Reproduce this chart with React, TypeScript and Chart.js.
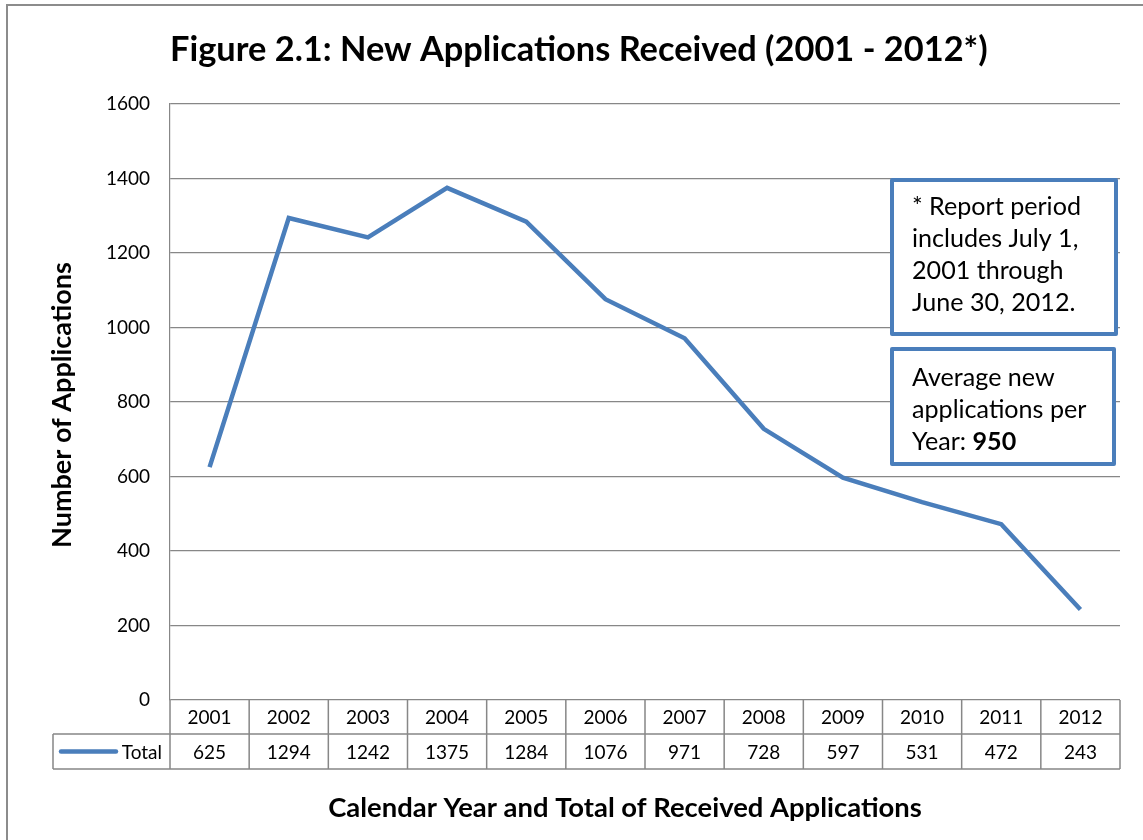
import React, { useEffect, useRef } from "react";
import { Chart, registerables } from "chart.js";

Chart.register(...registerables);

const years = ["2001", "2002", "2003", "2004", "2005", "2006", "2007", "2008", "2009", "2010", "2011", "2012"];
const totals = [625, 1294, 1242, 1375, 1284, 1076, 971, 728, 597, 531, 472, 243];
const yTickValues = [0, 200, 400, 600, 800, 1000, 1200, 1400, 1600];
const seriesLabel = "Total";
const chartTitle = "Figure 2.1: New Applications Received (2001 - 2012*)";
const yTitle = "Number of Applications";
const xTitle = "Calendar Year and Total of Received Applications";
const noteLines = ["* Report period", "includes July 1,", "2001 through", "June 30, 2012."];
const avgPrefix = ["Average new", "applications per", "Year: "];
const avgValue = "950";

const FONT = "Lato, 'Open Sans', sans-serif";
const BLUE = "#4A7EBB";
const GRID = "#878787";

function fitFont(ctx: CanvasRenderingContext2D, text: string, weight: string, target: number) {
  ctx.font = `${weight} 100px ${FONT}`;
  const w = ctx.measureText(text).width;
  return (100 * target) / w;
}

const overlayPlugin = {
  id: "overlay",
  afterDraw(chart: any) {
    const ctx: CanvasRenderingContext2D = chart.ctx;
    const area = chart.chartArea;
    const xs = chart.scales.x;
    ctx.save();

    // outer border
    ctx.strokeStyle = "#8c8c8c";
    ctx.lineWidth = 2;
    ctx.strokeRect(7, 5, 1200, 900);

    // title
    const ts = fitFont(ctx, chartTitle, "bold", 818);
    ctx.font = `bold ${ts}px ${FONT}`;
    ctx.fillStyle = "#000";
    ctx.textAlign = "left";
    ctx.textBaseline = "middle";
    ctx.fillText(chartTitle, 170, 50);

    // y title
    const ys = fitFont(ctx, yTitle, "bold", 286);
    ctx.save();
    ctx.translate(62, 405);
    ctx.rotate(-Math.PI / 2);
    ctx.font = `bold ${ys}px ${FONT}`;
    ctx.textAlign = "center";
    ctx.fillText(yTitle, 0, 0);
    ctx.restore();

    // data table
    const n = years.length;
    const left = area.left;
    const right = area.right;
    const w = (right - left) / n;
    const r0 = area.bottom;
    const r1 = r0 + 34;
    const r2 = r1 + 35;
    const legL = 53;
    ctx.strokeStyle = GRID;
    ctx.lineWidth = 1.5;
    ctx.beginPath();
    ctx.moveTo(legL, r1); ctx.lineTo(right, r1);
    ctx.moveTo(legL, r2); ctx.lineTo(right, r2);
    ctx.moveTo(legL, r1); ctx.lineTo(legL, r2);
    for (let i = 0; i <= n; i++) {
      const x = left + i * w;
      ctx.moveTo(x, r0); ctx.lineTo(x, r2);
    }
    ctx.stroke();

    ctx.font = `19px ${FONT}`;
    ctx.fillStyle = "#000";
    ctx.textAlign = "center";
    ctx.textBaseline = "middle";
    for (let i = 0; i < n; i++) {
      const cx = xs.getPixelForValue(i);
      ctx.fillText(years[i], cx, (r0 + r1) / 2 + 1);
      ctx.fillText(String(totals[i]), cx, (r1 + r2) / 2 + 1);
    }
    // legend key
    ctx.strokeStyle = BLUE;
    ctx.lineWidth = 4.5;
    ctx.lineCap = "round";
    ctx.beginPath();
    ctx.moveTo(61, (r1 + r2) / 2);
    ctx.lineTo(116, (r1 + r2) / 2);
    ctx.stroke();
    ctx.textAlign = "right";
    ctx.fillText(seriesLabel, 162, (r1 + r2) / 2 + 1);

    // x title
    const xsz = fitFont(ctx, xTitle, "bold", 594);
    ctx.font = `bold ${xsz}px ${FONT}`;
    ctx.textAlign = "center";
    ctx.fillText(xTitle, 625, 808);

    // annotation boxes
    ctx.lineCap = "butt";
    ctx.lineJoin = "round";
    ctx.lineWidth = 4;
    ctx.strokeStyle = BLUE;
    ctx.fillStyle = "#fff";
    ctx.fillRect(892, 180, 224, 154);
    ctx.strokeRect(892, 180, 224, 154);
    ctx.fillRect(892, 349, 222, 115);
    ctx.strokeRect(892, 349, 222, 115);

    const ns = fitFont(ctx, noteLines[0], "normal", 169);
    ctx.font = `${ns}px ${FONT}`;
    ctx.fillStyle = "#000";
    ctx.textAlign = "left";
    noteLines.forEach((t, i) => ctx.fillText(t, 912, 207 + i * 32));
    avgPrefix.forEach((t, i) => {
      ctx.font = `${ns}px ${FONT}`;
      ctx.fillText(t, 912, 378 + i * 32);
      if (i === avgPrefix.length - 1) {
        const tw = ctx.measureText(t).width;
        ctx.font = `bold ${ns}px ${FONT}`;
        ctx.fillText(avgValue, 912 + tw, 378 + i * 32);
      }
    });

    ctx.restore();
  },
};

export default function App() {
  const ref = useRef<HTMLCanvasElement | null>(null);
  useEffect(() => {
    document.body.style.margin = "0";
    document.body.style.overflow = "hidden";
    const canvas = ref.current!;
    const chart = new Chart(canvas, {
      type: "line",
      data: {
        labels: years,
        datasets: [
          {
            label: seriesLabel,
            data: totals,
            borderColor: BLUE,
            borderWidth: 4.5,
            pointRadius: 0,
            tension: 0,
            fill: false,
          },
        ],
      },
      options: {
        responsive: false,
        animation: false,
        layout: { padding: { top: 104, right: 23, left: 0, bottom: 0 } },
        plugins: {
          legend: { display: false },
          title: { display: false },
          tooltip: { enabled: false },
        },
        scales: {
          x: {
            type: "category",
            offset: true,
            grid: { display: false },
            border: { display: false },
            ticks: { display: false },
            afterFit: (s: any) => {
              s.height = 140;
            },
          },
          y: {
            min: 0,
            max: 1600,
            afterBuildTicks: (s: any) => {
              s.ticks = yTickValues.map((v) => ({ value: v }));
            },
            ticks: {
              color: "#000",
              font: { family: FONT, size: 19 },
              padding: 20,
              callback: (v: any) => String(v),
            },
            grid: { color: GRID, lineWidth: 1.2, drawTicks: false },
            border: { color: GRID, width: 1.2 },
            afterFit: (s: any) => {
              s.width = 170;
            },
          },
        },
      },
      plugins: [overlayPlugin],
    });
    return () => chart.destroy();
  }, []);
  return <canvas ref={ref} width={1143} height={840} style={{ display: "block" }} />;
}
